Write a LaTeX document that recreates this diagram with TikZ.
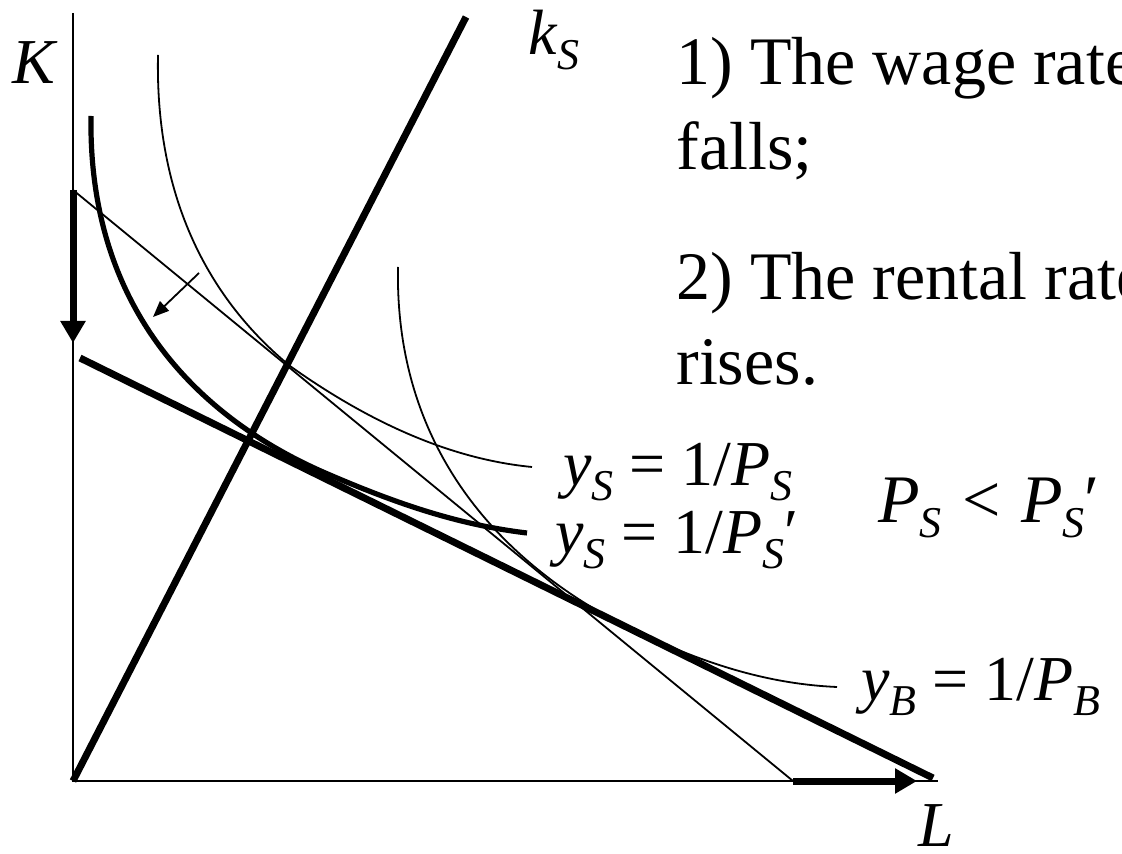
\documentclass[tikz,border=0pt]{standalone}
\usepackage{fontspec}
\setmainfont{Liberation Serif}
\usetikzlibrary{arrows.meta}
\tikzset{
  axisline/.style={line width=0.9pt},
  thinline/.style={line width=0.9pt},
  thickline/.style={line width=3.5pt},
  isoquant/.style={line width=0.9pt},
  newisoquant/.style={line width=2.6pt},
  shiftarr/.style={-{Triangle[length=11pt,width=12pt]}, line width=3.5pt},
  smallarr/.style={-{Triangle[length=8pt,width=6.5pt]}, line width=0.9pt},
  lbl/.style={inner sep=0pt, anchor=base west, font=\fontsize{32}{42.5}\selectfont},
  note/.style={lbl, align=left, font=\fontsize{34}{42.5}\selectfont}
}
\newcommand{\vsub}[2]{\textit{#1}\raisebox{-7.5pt}{\fontsize{22}{22}\selectfont\textit{#2}}}

\begin{document}
\begin{tikzpicture}[x=5pt,y=-5pt]
  \useasboundingbox (0,0) rectangle (112.2,85.4);
  \clip (0,0) rectangle (112.2,85.4);
  % axes
  \coordinate (O) at (7.3,78.1);
  \coordinate (Ktop) at (7.3,1.3);
  \coordinate (Lend) at (93.8,78.1);
  \draw[axisline] (Ktop) -- (O) -- (Lend);
  \node[lbl] (K) at (1.2,8.4) {\textit{K}};
  \node[lbl] (L) at (91.8,84.6) {\textit{L}};

  % capital-labour ray of sector S
  \coordinate (kend) at (46.6,1.7);
  \draw[thickline] (O) -- (kend);
  \node[lbl] (kS) at (52.8,5.5) {\vsub{k}{S}};

  % isocost lines, old (thin) and new (thick)
  \coordinate (c0) at (7.3,19);
  \coordinate (c0end) at (79.3,78.1);
  \coordinate (c1) at (8,35.8);
  \coordinate (c1end) at (93.3,77.8);
  \draw[thinline] (c0) -- (c0end);
  \draw[thickline] (c1) -- (c1end);

  % shifts of the intercepts
  \coordinate (dtip) at (7.3,34.3);
  \coordinate (rtip) at (91.7,78.1);
  \draw[shiftarr] (c0) -- (dtip);
  \draw[shiftarr] (c0end) -- (rtip);

  % unit-value isoquants
  \coordinate (ysA) at (15.8,5.5);
  \coordinate (ysT) at (29,36.6);
  \coordinate (ysB) at (53.2,46.7);
  \draw[isoquant] (ysA) .. controls (15.5,20) and (21,30) .. (ysT)
    .. controls (38,43) and (46,46) .. (ysB);

  \coordinate (ypA) at (9.1,11.6);
  \coordinate (ypT) at (33,47.5);
  \coordinate (ypB) at (52.7,53.3);
  \draw[newisoquant] (ypA) .. controls (8.8,31) and (20,42) .. (ypT)
    .. controls (40,50.5) and (46,52.5) .. (ypB);

  \coordinate (ybA) at (39.8,26.7);
  \coordinate (ybT) at (61,61.8);
  \coordinate (ybB) at (83.7,68.7);
  \draw[isoquant] (ybA) .. controls (39.5,42) and (47,54) .. (ybT)
    .. controls (70,66.5) and (77,68.4) .. (ybB);

  \coordinate (sa) at (19.9,27.3);
  \coordinate (sb) at (15.3,31.7);
  \draw[smallarr] (sa) -- (sb);

  % labels
  \node[lbl] (ysl) at (56.3,48.6) {\vsub{y}{S} = 1/\vsub{P}{S}};
  \node[lbl] (ypl) at (55.5,55.3) {\vsub{y}{S} = 1/\vsub{P}{S}′};
  \node[lbl, font=\fontsize{34}{42.5}\selectfont] (cmp) at (87.8,52.2)
    {\vsub{P}{S}\hspace{0.3em}<\hspace{0.3em}\vsub{P}{S}′};
  \node[lbl] (ybl) at (86.1,70.0) {\vsub{y}{B} = 1/\vsub{P}{B}};

  \node[note] (n1) at (67.6,17.0) {1) The wage rate\\falls;};
  \node[note] (n2) at (67.6,38.5) {2) The rental rate\\rises.};
\end{tikzpicture}
\end{document}
